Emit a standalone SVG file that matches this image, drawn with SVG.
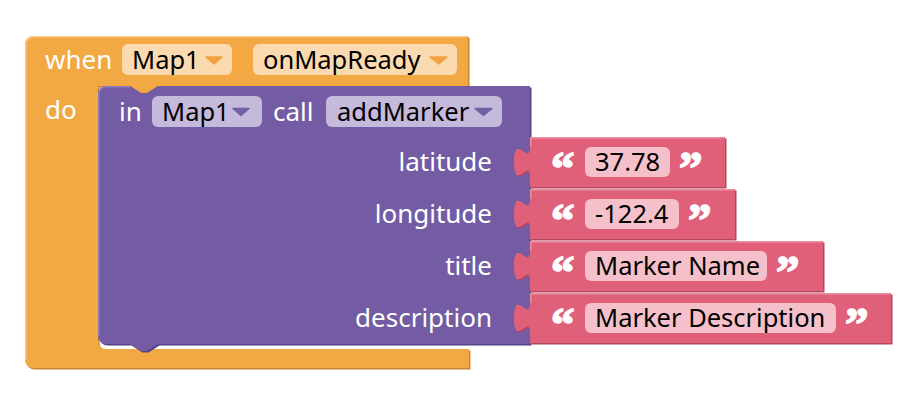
<svg xmlns="http://www.w3.org/2000/svg" width="914" height="410" viewBox="0 0 914 410">
<style>
  .lbl { font-family: "Noto Sans", "Open Sans", sans-serif; font-size: 26px; fill: #ffffff; }
  .fld { font-family: "Noto Sans", "Open Sans", sans-serif; font-size: 25.5px; fill: #000000; }
  .q { font-family: "Liberation Serif", "DejaVu Serif", serif; font-size: 47px; font-weight: bold; fill: #ffffff; stroke: #ffffff; stroke-width: 1.6; stroke-linejoin: round; }
  .ddo { fill: #FCDAB0; }
  .ddp { fill: #C5B9DC; }
  .ddq { fill: #F6C0CA; }
  .arro { fill: #F2A241; stroke: #F2A241; stroke-width: 1.5; stroke-linejoin: round; }
  .arrp { fill: #7460A6; stroke: #7460A6; stroke-width: 1.5; stroke-linejoin: round; }
  .pk { fill: #E0607A; }
  .pkd { fill: #B4475D; }
  .pkl { fill: none; stroke: #EC8FA1; stroke-width: 1.5; }
</style>
<rect width="914" height="410" fill="#ffffff"/>

<g id="event-block">
  <path transform="translate(1.5,1.5)" fill="#C98830" d="M25,44 a8,8 0 0 1 8,-8 H468 V86 H158 l-11,7 l-6,0 l-11,-7 H98 V341 a8,8 0 0 0 8,8 H469 V368 H33 a8,8 0 0 1 -8,-8 Z"/>
  <path fill="#F2A843" d="M25,44 a8,8 0 0 1 8,-8 H468 V86 H158 l-11,7 l-6,0 l-11,-7 H98 V341 a8,8 0 0 0 8,8 H469 V368 H33 a8,8 0 0 1 -8,-8 Z"/>
  <path fill="none" stroke="#F7C888" stroke-width="1.5" d="M25.8,360 V44 a7.2,7.2 0 0 1 7.2,-7.2 H467"/>
  <text class="lbl" x="45" y="69">when</text>
  <rect class="ddo" x="122" y="44" width="110" height="31" rx="6"/>
  <text class="fld" x="132" y="68.5">Map1</text>
  <polygon class="arro" points="206,57 222,57 214,64"/>
  <rect class="ddo" x="253" y="44" width="204" height="31" rx="6"/>
  <text class="fld" x="263" y="68.5">onMapReady</text>
  <polygon class="arro" points="430,57 447,57 438.5,64"/>
  <text class="lbl" x="45" y="119">do</text>
</g>

<g id="call-block">
  <path transform="translate(1.5,1.5)" fill="#56438A" d="M98,94 a8,8 0 0 1 8,-8 H130 l11,7 l6,0 l11,-7 H530 V344 H158 l-11,7 l-6,0 l-11,-7 H106 a8,8 0 0 1 -8,-8 Z"/>
  <path fill="#735CA3" d="M98,94 a8,8 0 0 1 8,-8 H130 l11,7 l6,0 l11,-7 H530 V344 H158 l-11,7 l-6,0 l-11,-7 H106 a8,8 0 0 1 -8,-8 Z"/>
  <path fill="none" stroke="#8F7CBE" stroke-width="1.5" d="M98.8,336 V94 a7.2,7.2 0 0 1 7.2,-7.2 H130"/>
  <text class="lbl" x="119" y="120.5">in</text>
  <rect class="ddp" x="152" y="96" width="110" height="31" rx="6"/>
  <text class="fld" x="162" y="120.5">Map1</text>
  <polygon class="arrp" points="233,108.5 249,108.5 241,115.5"/>
  <text class="lbl" x="273" y="120.5">call</text>
  <rect class="ddp" x="326" y="96" width="176" height="31" rx="6"/>
  <text class="fld" x="337" y="120.5">addMarker</text>
  <polygon class="arrp" points="475,108.5 492,108.5 483.5,115.5"/>
  <text class="lbl" x="492" y="171" text-anchor="end">latitude</text>
  <text class="lbl" x="492" y="223" text-anchor="end">longitude</text>
  <text class="lbl" x="492" y="275" text-anchor="end">title</text>
  <text class="lbl" x="492" y="327" text-anchor="end">description</text>
</g>

<g id="text-latitude">
  <path class="pkd" transform="translate(1.5,1.5)" d="M530,137 H725 V187 H530 V177 c0,-20 -16,16 -16,-15 s16,5 16,-15 Z"/>
  <path class="pk" d="M530,137 H725 V187 H530 V177 c0,-20 -16,16 -16,-15 s16,5 16,-15 Z"/>
  <path class="pkl" d="M530.8,147 V137.8 H724"/>
  <text class="q" x="551" y="184">“</text>
  <rect class="ddq" x="585" y="147" width="85" height="30" rx="6"/>
  <text class="fld" x="595" y="171">37.78</text>
  <text class="q" x="679" y="184">”</text>
</g>

<g id="text-longitude">
  <path class="pkd" transform="translate(1.5,1.5)" d="M530,189 H735 V239 H530 V229 c0,-20 -16,16 -16,-15 s16,5 16,-15 Z"/>
  <path class="pk" d="M530,189 H735 V239 H530 V229 c0,-20 -16,16 -16,-15 s16,5 16,-15 Z"/>
  <path class="pkl" d="M530.8,199 V189.8 H734"/>
  <text class="q" x="551" y="236">“</text>
  <rect class="ddq" x="585" y="199" width="94" height="30" rx="6"/>
  <text class="fld" x="595" y="223">-122.4</text>
  <text class="q" x="688" y="236">”</text>
</g>

<g id="text-title">
  <path class="pkd" transform="translate(1.5,1.5)" d="M530,241 H823 V291 H530 V281 c0,-20 -16,16 -16,-15 s16,5 16,-15 Z"/>
  <path class="pk" d="M530,241 H823 V291 H530 V281 c0,-20 -16,16 -16,-15 s16,5 16,-15 Z"/>
  <path class="pkl" d="M530.8,251 V241.8 H822"/>
  <text class="q" x="551" y="288">“</text>
  <rect class="ddq" x="585" y="251" width="182" height="30" rx="6"/>
  <text class="fld" x="595" y="275">Marker Name</text>
  <text class="q" x="776" y="288">”</text>
</g>

<g id="text-description">
  <path class="pkd" transform="translate(1.5,1.5)" d="M530,293 H891 V343 H530 V333 c0,-20 -16,16 -16,-15 s16,5 16,-15 Z"/>
  <path class="pk" d="M530,293 H891 V343 H530 V333 c0,-20 -16,16 -16,-15 s16,5 16,-15 Z"/>
  <path class="pkl" d="M530.8,303 V293.8 H890"/>
  <text class="q" x="551" y="340">“</text>
  <rect class="ddq" x="585" y="303" width="251" height="30" rx="6"/>
  <text class="fld" x="595" y="327">Marker Description</text>
  <text class="q" x="845" y="340">”</text>
</g>

<g id="connectors"></g>
</svg>
